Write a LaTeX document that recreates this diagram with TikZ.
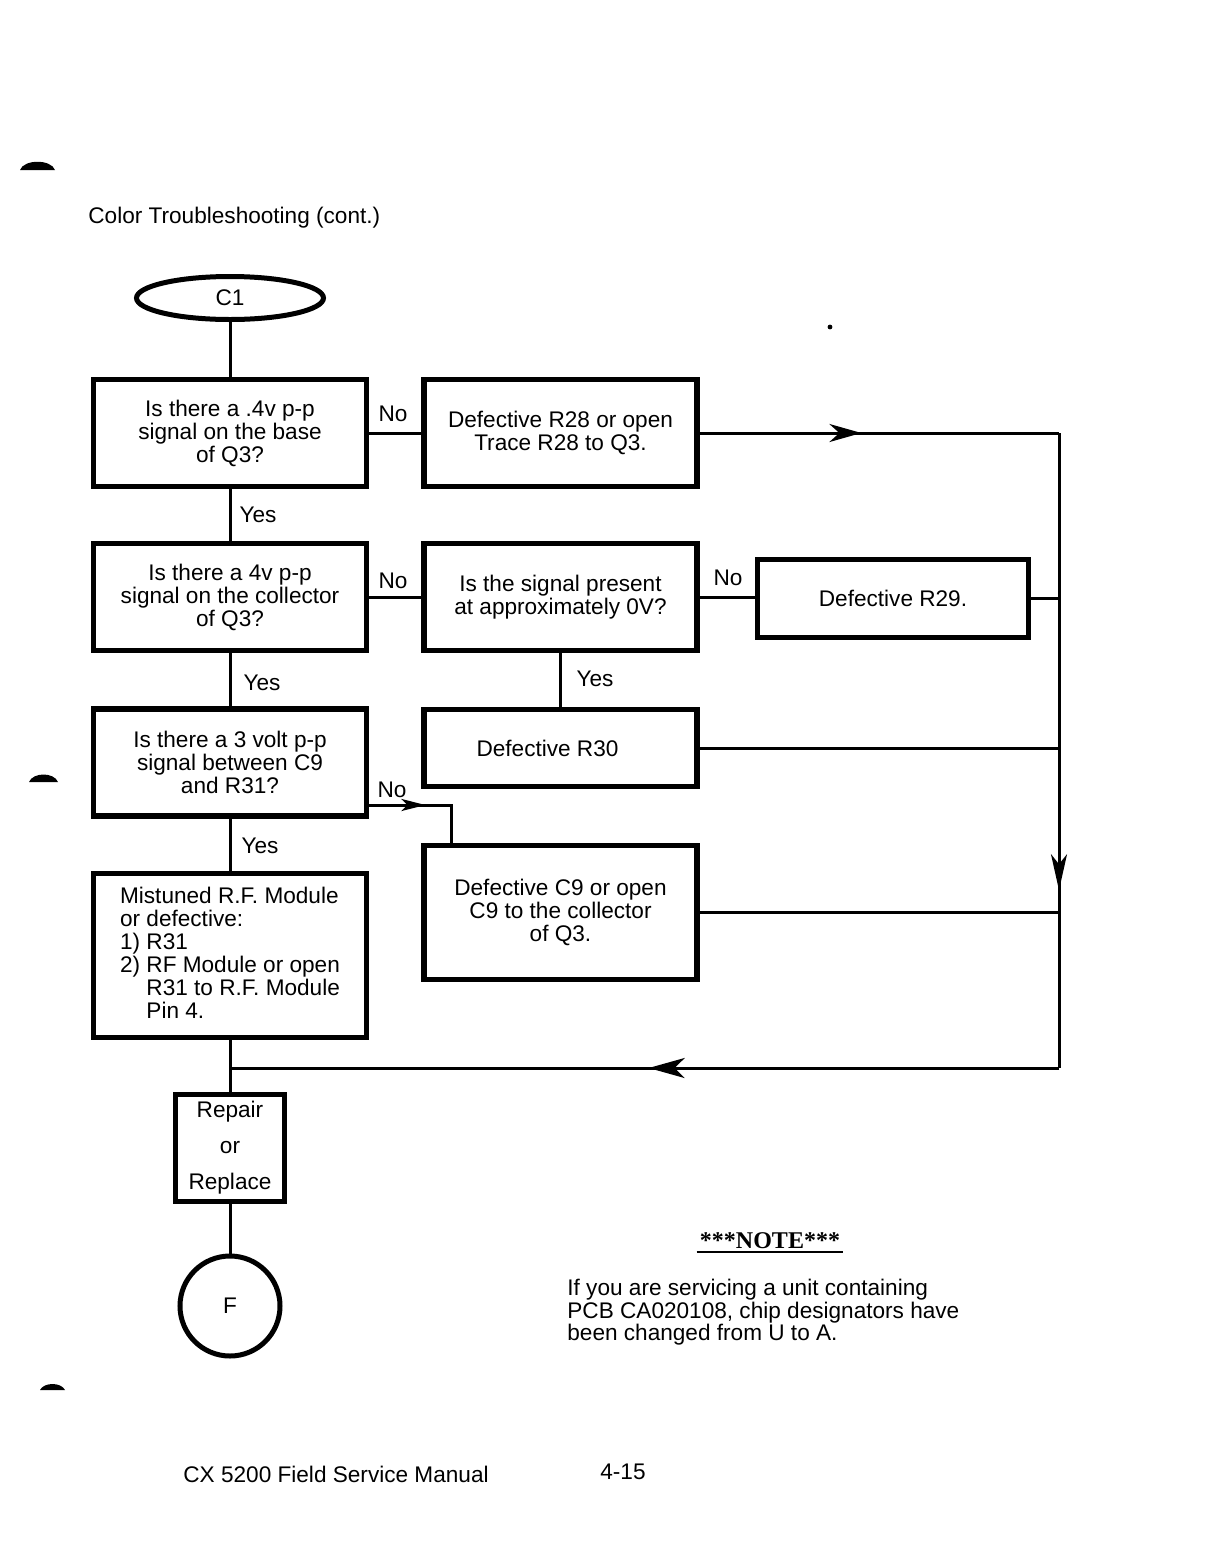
\documentclass[tikz,border=0pt]{standalone}
\usepackage{fontspec}
\setmainfont{Liberation Sans}
\newfontfamily\notefont{Liberation Serif}
\usetikzlibrary{shapes.geometric, arrows.meta, decorations.markings}
\newcommand\flowtxt{\fontsize{11.3}{11.5}\selectfont}
\begin{document}
\begin{tikzpicture}[x=0.5pt, y=-0.5pt,
  every node/.style={font=\flowtxt},
  box/.style={draw, line width=2.75pt, align=center, inner sep=2pt,
              minimum width=136.5pt, minimum height=53.5pt},
  conn/.style={line width=1.5pt},
  lbl/.style={inner sep=0pt},
  midarr/.style n args={2}{postaction={decorate},
     decoration={markings, mark=at position #1 with {\arrow{#2}}}}
]
\useasboundingbox (0,0) rectangle (1218,1564);
\fill[white] (0,0) rectangle (1218,1564);

% scan marks
\fill (20,170) .. controls (24,159) and (51,159) .. (55,170) -- cycle;
\fill (29,782) .. controls (33,772) and (54,772) .. (58,782) -- cycle;
\fill (40,1390) .. controls (44,1382) and (61,1382) .. (65,1390) -- cycle;
\fill (830,327) circle (1.2pt);

% title
\node[lbl, anchor=west] (title) at (88,218) {Color Troubleshooting (cont.)};

% start
\node[draw, ellipse, line width=2.5pt, minimum width=93.5pt, minimum height=21.5pt, inner sep=0pt] (c1) at (230,298) {C1};

% boxes
\node[box] (b1) at (230,433) {Is there a .4v p-p\\signal on the base\\of Q3?};
\node[box] (b2) at (560.5,433) {Defective R28 or open\\Trace R28 to Q3.};
\node[box] (b3) at (230,597) {Is there a 4v p-p\\signal on the collector\\of Q3?};
\node[box] (b4) at (560.5,597) {Is the signal present\\at approximately 0V?};
\node[box, minimum width=135.5pt, minimum height=39pt] (b5) at (893,598.5) {Defective R29.};
\node[box, minimum height=38.5pt] (b6) at (560.5,748) {Defective R30\hspace*{13pt}};
\node[box] (b7) at (230,762.5) {Is there a 3 volt p-p\\signal between C9\\and R31?};
\node[box, minimum height=67pt] (b8) at (560.5,912.5) {Defective C9 or open\\C9 to the collector\\of Q3.};
\node[box, minimum height=82pt, align=left] (b9) at (230,955.5)
  {Mistuned R.F. Module\\or defective:\\1) R31\\2) RF Module or open\\\phantom{2) }R31 to R.F. Module\\\phantom{2) }Pin 4.};
\node[box, minimum width=54.5pt, minimum height=53.5pt] (rep) at (230,1148) {Repair\\[6.5pt]or\\[6.5pt]Replace};
\node[draw, circle, line width=2.5pt, minimum size=50pt, inner sep=0pt] (f) at (230,1306) {F};

% branch labels
\node[lbl] (no1) at (393,414) {No};
\node[lbl] (yes1) at (258,515) {Yes};
\node[lbl] (no2) at (393,581) {No};
\node[lbl] (no3) at (728,578) {No};
\node[lbl] (yes2) at (595,679) {Yes};
\node[lbl] (yes3) at (262,683) {Yes};
\node[lbl] (no4) at (392,790) {No};
\node[lbl] (yes4) at (260,846) {Yes};

% routing points
\coordinate (r1) at (1059,433);
\coordinate (r2) at (1059,1068);
\coordinate (j) at (230,1068);
\coordinate (n7) at (451,805);

% connectors
\draw[conn] (c1) -- (b1);
\draw[conn] (b1) -- (b2);
\draw[conn, midarr={0.45}{Stealth[length=16pt,width=9pt,inset=5pt]}] (b2.east |- r1) -- (r1);
\draw[conn, midarr={0.72}{Stealth[length=18pt,width=8pt,inset=5pt]}] (r1) -- (r2);
\draw[conn, midarr={0.495}{Stealth[length=18pt,width=10pt,inset=5pt]}] (r2) -- (j);
\draw[conn] (b1) -- (b3);
\draw[conn] (b3) -- (b4);
\draw[conn] (b4.east) -- (b4.east -| b5.west);
\draw[conn] (b5.east) -- (b5.east -| r1);
\draw[conn] (b4) -- (b6);
\draw[conn] (b6.east) -- (b6.east -| r1);
\draw[conn] (b3) -- (b7);
\draw[conn, midarr={0.47}{Stealth[length=12pt,width=6pt,inset=3pt]}] (b7.east |- n7) -- (n7) -- (b8.north -| n7);
\draw[conn] (b8.east) -- (b8.east -| r1);
\draw[conn] (b7) -- (b9);
\draw[conn] (b9) -- (j) -- (rep);
\draw[conn] (rep) -- (f);

% note
\node[inner sep=1.5pt, font=\notefont\bfseries\fontsize{12}{13}\selectfont] (note) at (770,1241) {***NOTE***};
\draw[line width=1pt] (note.south west) -- (note.south east);
\node[anchor=north west, align=left, inner sep=0pt, font=\fontsize{11.3}{11.25}\selectfont] (notebody) at (567,1279)
  {If you are servicing a unit containing\\PCB CA020108, chip designators have\\been changed from U to A.};

% footer
\node[lbl, anchor=west] (foot) at (183,1474) {CX 5200 Field Service Manual};
\node[lbl, anchor=west] (page) at (600,1472) {4-15};
\end{tikzpicture}
\end{document}
